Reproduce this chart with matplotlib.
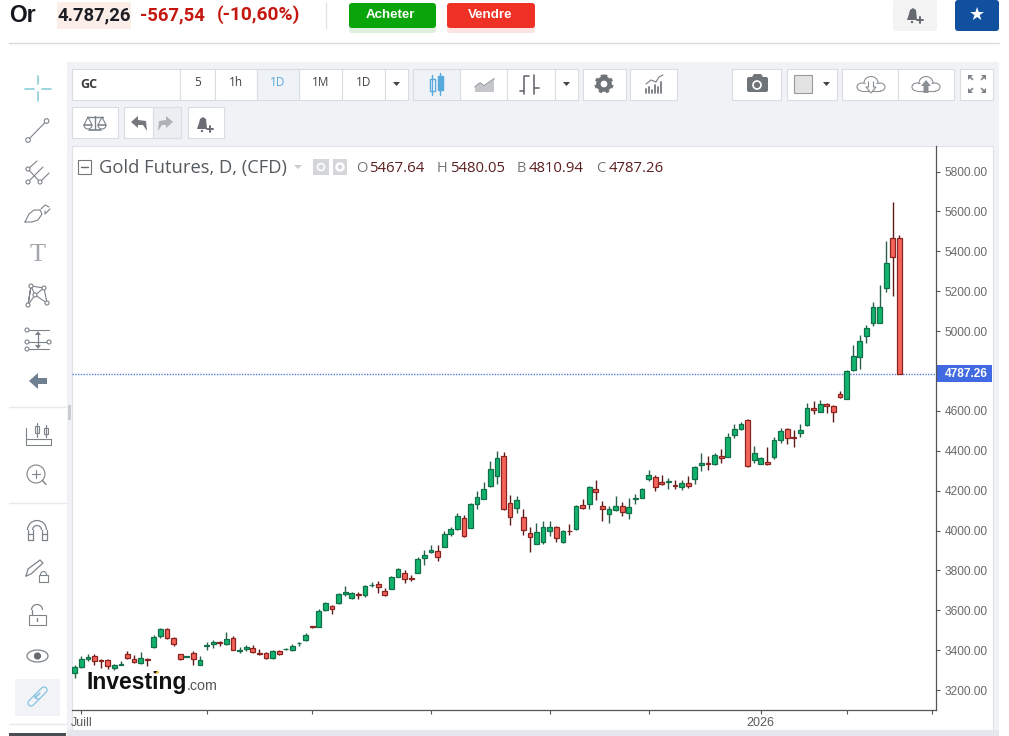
import matplotlib
matplotlib.use("Agg")
import matplotlib.pyplot as plt
import numpy as np
from matplotlib.patches import Rectangle, FancyBboxPatch, Circle, Polygon, Wedge, Ellipse, Arc

# candles, one per trading day
opens = [3287, 3315, 3354, 3372, 3352, 3350, 3309, 3327, 3379, 3355,
         3334, 3357, 3414, 3469, 3506, 3461, 3379, 3367, 3387, 3327,
         3422, 3432, 3439, 3431, 3462, 3397, 3407, 3412, 3384, 3384,
         3359, 3394, 3406, 3399, 3434, 3452, 3521, 3518, 3601, 3620,
         3636, 3683, 3663, 3681, 3678, 3725, 3731, 3698, 3706, 3768,
         3785, 3760, 3788, 3860, 3890, 3897, 3917, 3982, 4006, 4061,
         4014, 4133, 4159, 4225, 4272, 4372, 4139, 4114, 4068, 3986,
         3934, 3944, 3999, 4017, 3940, 3997, 4006, 4129, 4133, 4206,
         4123, 4083, 4104, 4123, 4087, 4158, 4164, 4258, 4266, 4245,
         4241, 4228, 4220, 4238, 4260, 4330, 4337, 4332, 4372, 4370,
         4480, 4507, 4552, 4353, 4333, 4343, 4367, 4455, 4507, 4470,
         4490, 4529, 4613, 4596, 4636, 4624, 4684, 4661, 4803, 4871,
         4975, 5042, 5042, 5218, 5468, 5467.64]
highs = [3325, 3372, 3379, 3379, 3355, 3357, 3330, 3345, 3396, 3375,
         3389, 3359, 3474, 3511, 3511, 3464, 3382, 3372, 3396, 3370,
         3442, 3451, 3444, 3489, 3471, 3414, 3427, 3427, 3406, 3391,
         3399, 3401, 3411, 3429, 3441, 3484, 3523, 3605, 3643, 3625,
         3686, 3722, 3693, 3690, 3726, 3741, 3748, 3710, 3772, 3810,
         3803, 3777, 3865, 3902, 3925, 3925, 3996, 4019, 4086, 4079,
         4139, 4196, 4241, 4350, 4400, 4394, 4178, 4173, 4106, 4017,
         4036, 4047, 4047, 4022, 4002, 4031, 4128, 4156, 4223, 4251,
         4146, 4123, 4173, 4141, 4161, 4183, 4211, 4302, 4276, 4278,
         4261, 4251, 4255, 4271, 4323, 4389, 4372, 4389, 4410, 4487,
         4532, 4542, 4561, 4424, 4367, 4417, 4470, 4512, 4516, 4504,
         4532, 4641, 4649, 4654, 4639, 4628, 4698, 4805, 4930, 4978,
         5029, 5144, 5233, 5453, 5646, 5480.05]
lows = [3260, 3312, 3345, 3324, 3309, 3304, 3299, 3324, 3354, 3334,
        3330, 3320, 3412, 3459, 3454, 3421, 3352, 3365, 3325, 3325,
        3401, 3411, 3419, 3427, 3399, 3387, 3397, 3384, 3374, 3357,
        3357, 3375, 3402, 3396, 3421, 3447, 3513, 3514, 3596, 3579,
        3630, 3671, 3658, 3658, 3668, 3716, 3685, 3671, 3705, 3767,
        3738, 3745, 3787, 3827, 3889, 3848, 3915, 3972, 4004, 3969,
        4012, 4109, 4158, 4220, 4235, 4103, 4026, 4086, 3977, 3894,
        3932, 3934, 3974, 3942, 3939, 3979, 4004, 4108, 4109, 4153,
        4049, 4037, 4099, 4072, 4057, 4131, 4163, 4248, 4198, 4230,
        4210, 4206, 4203, 4213, 4235, 4298, 4303, 4330, 4340, 4368,
        4462, 4506, 4317, 4340, 4332, 4328, 4358, 4440, 4434, 4417,
        4469, 4526, 4584, 4592, 4591, 4546, 4666, 4659, 4801, 4810,
        4940, 5025, 5040, 5194, 5177, 4787.26]
closes = [3314, 3355, 3365, 3344, 3345, 3322, 3324, 3330, 3359, 3339,
          3360, 3352, 3467, 3504, 3459, 3432, 3355, 3370, 3354, 3350,
          3427, 3439, 3437, 3454, 3402, 3401, 3414, 3389, 3382, 3360,
          3394, 3382, 3407, 3422, 3437, 3477, 3514, 3596, 3638, 3608,
          3681, 3690, 3686, 3678, 3721, 3728, 3716, 3678, 3765, 3805,
          3757, 3758, 3858, 3875, 3902, 3867, 3981, 4007, 4073, 3972,
          4134, 4166, 4206, 4307, 4362, 4109, 4066, 4151, 4004, 3966,
          3991, 4016, 4017, 3960, 3996, 3996, 4123, 4114, 4216, 4191,
          4109, 4106, 4123, 4092, 4118, 4161, 4206, 4276, 4220, 4231,
          4246, 4221, 4238, 4225, 4317, 4337, 4332, 4377, 4363, 4470,
          4509, 4534, 4325, 4387, 4365, 4332, 4454, 4497, 4462, 4464,
          4502, 4613, 4602, 4636, 4626, 4596, 4669, 4801, 4873, 4950,
          5017, 5121, 5121, 5341, 5373, 4787.26]

price_ticks = [3200, 3400, 3600, 3800, 4000, 4200, 4400, 4600, 5000, 5200, 5400, 5600, 5800]
date_ticks = [1, 20, 36, 54, 72, 87, 104, 117, 130]
date_labels = ["Juill", "", "", "", "", "", "2026", "", ""]
last_price = 4787.26

plt.rcParams["font.family"] = ["Liberation Sans", "DejaVu Sans"]
fig = plt.figure(figsize=(10.09, 7.36), dpi=100, facecolor="white")

# page chrome is drawn in pixel coordinates
ui = fig.add_axes([0, 0, 1, 1], zorder=0)
ui.set_xlim(0, 1009)
ui.set_ylim(736, 0)
ui.axis("off")

BORDER = "#d9dde3"
ICON = "#7d8389"


def box(x0, y0, x1, y1, fc="white", ec=BORDER, lw=0.8):
    ui.add_patch(Rectangle((x0, y0), x1 - x0, y1 - y0, fc=fc, ec=ec, lw=lw))


def rbox(x0, y0, x1, y1, fc, r=3):
    ui.add_patch(FancyBboxPatch((x0 + r, y0 + r), x1 - x0 - 2 * r, y1 - y0 - 2 * r,
                                boxstyle=f"round,pad={r}", fc=fc, ec="none"))


def label(x, y, s, size=9, color="#444444", ha="center", weight="normal", family=None):
    ui.text(x, y, s, fontsize=size, color=color, ha=ha, va="center", fontweight=weight,
            family=family if family else plt.rcParams["font.family"])


def line(xs, ys, color=ICON, lw=1.0, ls="-"):
    ui.plot(xs, ys, color=color, lw=lw, ls=ls, solid_capstyle="round")


def ring(x, y, r=2.3, color=ICON):
    ui.add_patch(Circle((x, y), r, fc="white", ec=color, lw=0.8, zorder=3))


def tri(pts, color=ICON):
    ui.add_patch(Polygon(pts, fc=color, ec="none", zorder=3))


def arc(x, y, w, h, t1, t2, color=ICON, lw=0.9):
    ui.add_patch(Arc((x, y), w, h, theta1=t1, theta2=t2, color=color, lw=lw))


def bell(x, y, color="#666a70"):
    tri([(x - 6, y + 5), (x - 4, y - 1), (x - 3, y - 5), (x, y - 7), (x + 3, y - 5), (x + 4, y + 5)], color)
    ui.add_patch(Circle((x - 1, y + 7), 1.2, fc=color, ec="none"))
    line([x + 4, x + 10], [y + 5, y + 5], color, 1.4)
    line([x + 7, x + 7], [y + 2, y + 8], color, 1.4)


def cloud(x, y, color=ICON, fill=False):
    ui.add_patch(Ellipse((x, y - 2), 14, 13, fc="white", ec=color, lw=0.8))
    ui.add_patch(Ellipse((x - 9, y + 2), 10, 8, fc="white", ec=color, lw=0.8))
    ui.add_patch(Ellipse((x + 9, y + 2), 10, 8, fc="white", ec=color, lw=0.8))
    ui.add_patch(Rectangle((x - 9, y - 1), 18, 6.5, fc="white", ec="none", zorder=2))
    line([x - 9, x + 9], [y + 6, y + 6], color, 0.8)
    if fill:
        tri([(x - 5, y + 1), (x, y - 5), (x + 5, y + 1), (x + 2.5, y + 1), (x + 2.5, y + 8), (x - 2.5, y + 8), (x - 2.5, y + 1)], color)
    else:
        tri([(x - 5, y + 2), (x, y + 8), (x + 5, y + 2)], "white")
        ui.plot([x - 2.5, x - 2.5, x - 5, x, x + 5, x + 2.5, x + 2.5], [y - 3, y + 2, y + 2, y + 8, y + 2, y + 2, y - 3],
                color=color, lw=0.8, zorder=4)


# top header
label(9, 15, "Or", 16.5, "#15171f", "left", "bold")
box(57, 2, 131, 29, "#fbeee9", "none")
label(58, 15, "4.787,26", 13.3, "#1d1d24", "left", "bold", "Roboto")
label(140, 15, "-567,54", 13.3, "#c5160f", "left", "bold", "Roboto")
label(217, 15, "(-10,60%)", 13.8, "#c5160f", "left", "bold", "Roboto")
line([325.5, 325.5], [2, 28], "#e2e2e2", 0.9)
rbox(349, 5, 436, 33, "#dff0df", 3)
rbox(447, 5, 535, 33, "#fbe3e1", 3)
rbox(349, 3, 436, 28, "#0aa50a")
rbox(447, 3, 535, 28, "#ee3124")
label(390, 15, "Acheter", 9.6, "white", weight="bold")
label(490, 15, "Vendre", 9.6, "white", weight="bold")
rbox(893, 0, 937, 31, "#f3f3f4")
bell(913, 15)
rbox(955, 0, 999, 31, "#11509f")
label(977, 14.5, "★", 13, "white", family="DejaVu Sans")
line([9, 999], [42.5, 42.5], "#dadada", 1.0)

# chart panel
box(67, 62, 999, 736, "#f0f2f6", "none")
box(72, 146, 993, 730, "white", "#dfe2e7")
box(67, 730, 999, 736, "#e4e7ec", "none")

# first toolbar row
for x0, x1 in [(72, 180), (180, 215), (215, 257), (299, 342), (342, 385), (385, 408),
               (460, 507), (507, 555), (555, 578), (583, 626), (630, 677), (732, 781),
               (787, 837), (842, 898), (898, 954), (960, 993)]:
    box(x0, 68.5, x1, 99.5)
box(257, 68.5, 299, 99.5, "#eff2f6")
box(413, 68.5, 460, 99.5, "#eff2f6")
label(80, 84, "GC", 9, "#3a3a3a", "left", "bold", "Open Sans")
for cx, s in [(198, "5"), (236, "1h"), (321, "1M"), (364, "1D")]:
    label(cx, 83, s, 8.5, "#444444", family="Open Sans")
label(278, 83, "1D", 8.5, "#5aa9dc", family="Open Sans")
for cx in [396.5, 566.5, 826.5]:
    tri([(cx - 3.5, 82), (cx + 3.5, 82), (cx, 86)], "#444444")

# candle type icons
line([432, 432], [75, 95], "#58a9dc", 1.0)
box(429.5, 79, 434.5, 91, "white", "#58a9dc", 1.0)
line([440, 440], [73, 95], "#58a9dc", 1.0)
box(437.5, 76, 442.5, 90, "#58a9dc", "#58a9dc", 1.0)
tri([(475, 92), (475, 87), (480, 83), (484, 86), (494, 79), (494, 92)], "#c4c6c9")
line([475, 480, 484, 494], [87, 83, 86, 79], "#7d8389", 1.0)
line([524, 524, 529], [94, 76, 76], "#6a6e74", 1.2)
line([520, 524], [91, 91], "#6a6e74", 1.2)
line([534, 534], [75, 94], "#6a6e74", 1.2)
line([534, 539], [88, 88], "#6a6e74", 1.2)

# gear
ui.add_patch(Circle((604, 84), 5.6, fc="white", ec="#6f7479", lw=3.2))
ui.add_patch(Circle((604, 84), 8.0, fc="none", ec="#6f7479", lw=2.2, ls=(0, (1.1, 1.1))))
# indicators
for bx, bh in zip([646, 649, 652, 655, 658, 661], [4, 6, 3, 8, 6, 11]):
    line([bx, bx], [93, 93 - bh], "#777b80", 1.3)
line([646, 651, 656, 659, 663], [84, 80, 82, 77, 75], "#777b80", 0.8)
# camera
rbox(747, 77, 768, 92, "#6f7479", 2)
tri([(752, 77), (754, 74), (761, 74), (763, 77)], "#6f7479")
ui.add_patch(Circle((757, 85), 4, fc="#6f7479", ec="white", lw=1.2))
box(794, 75, 812, 93, "#e3e3e3", "#9a9a9a")
cloud(871, 85, "#8a8f94")
cloud(926, 85, "#8a8f94", fill=True)
# fullscreen arrows
for sx, sy in [(-1, -1), (1, -1), (-1, 1), (1, 1)]:
    cx, cy = 977 + 8 * sx, 84 + 8 * sy
    tri([(cx + sx, cy + sy), (cx - 4 * sx, cy + sy), (cx + sx, cy - 4 * sy)], "#7d8389")
    line([cx, cx - 3.5 * sx], [cy, cy - 3.5 * sy], "#7d8389", 1.2)

# second toolbar row
box(72, 106.5, 118, 138)
box(123.5, 106.5, 153, 138)
box(153, 106.5, 181, 138, "#eceef2")
box(187.5, 106.5, 223.5, 138)
line([95, 95], [116, 129], ICON, 1.0)
line([87, 103], [117, 117], ICON, 1.0)
line([89, 101], [130, 130], ICON, 1.2)
for cx in [88, 102]:
    line([cx - 4, cx, cx + 4, cx - 4], [125, 117, 125, 125], ICON, 0.8)
    ui.add_patch(Wedge((cx, 125), 4, 0, 180, fc="white", ec=ICON, lw=0.8))
tri([(131, 122), (138, 116), (138, 120), (146, 121), (147, 131), (143, 125), (138, 125), (138, 128)], "#74787d")
tri([(173, 122), (166, 116), (166, 120), (159, 121), (158, 131), (162, 125), (166, 125), (166, 128)], "#aeb1b5")
bell(203, 124, "#6a6e74")

# left drawing tools
CYAN = "#8cd0dc"
line([38, 38], [76, 84], CYAN, 1.2)
line([38, 38], [92, 101], CYAN, 1.2)
line([25, 34], [88.5, 88.5], CYAN, 1.2)
line([42, 51], [88.5, 88.5], CYAN, 1.2)
line([28, 46.5], [140, 121], ICON, 0.8)
ring(28, 140)
ring(46.5, 121)
line([28, 37], [169, 161], ICON, 0.8)
line([28, 43], [182, 167], ICON, 0.8)
line([40, 49], [182, 173], ICON, 0.8)
line([28, 40], [169, 182], ICON, 0.8)
for px, py in [(28, 169), (28, 182), (40, 182)]:
    ring(px, py, 2)
line([25, 29, 34, 40, 42, 38, 32, 25], [222, 214, 210, 210, 214, 220, 222, 222], ICON, 0.8)
line([41, 45, 49], [209, 205, 207], ICON, 0.8)
line([45, 45, 50], [211, 214, 209], ICON, 0.8)
label(38, 255, "T", 19, "#a3a7ab", family="Liberation Serif")
line([28, 31, 35, 47, 44, 31, 28], [305, 286, 295, 303, 288, 286, 305], ICON, 0.8)
line([28, 35, 44], [305, 295, 288], ICON, 0.8)
for px, py in [(28, 305), (31, 286), (35, 295), (47, 303), (44, 288)]:
    ring(px, py, 2)
for ly, x0, x1 in [(330, 27, 49), (342, 27, 49), (349, 27, 49)]:
    line([x0, x1], [ly, ly], ICON, 0.8)
for px, py in [(27, 330), (27, 342), (27, 349), (49, 342)]:
    ring(px, py, 2)
line([38, 38], [333, 347], ICON, 0.9)
tri([(35, 335), (41, 335), (38, 331)], ICON)
tri([(35, 345), (41, 345), (38, 349)], ICON)
tri([(29, 381), (38, 373), (38, 378), (47, 378), (47, 384), (38, 384), (38, 389)], "#6d7f91")
line([9, 66], [407, 407], "#e7e9ec", 1.0)
line([26, 26, 51, 51], [428, 445, 445, 439], ICON, 0.8)
line([26, 51], [439, 439], ICON, 0.8)
line([37, 37], [423, 437], ICON, 0.9)
line([46, 46], [425, 437], ICON, 0.9)
box(35, 426, 39, 433, "white", ICON)
box(44, 428, 48, 434, "white", ICON)
ui.add_patch(Circle((36, 474), 9, fc="white", ec=ICON, lw=0.8))
line([42.5, 46], [480.5, 484.5], ICON, 1.0)
line([32, 40], [474, 474], ICON, 0.8)
line([36, 36], [470, 478], ICON, 0.8)
line([9, 66], [503, 503], "#e7e9ec", 1.0)
# magnet
arc(37, 530, 19, 19, 180, 360)
arc(37, 530, 9, 9, 180, 360)
line([27.5, 27.5, 32.5, 32.5], [530, 540, 540, 530], ICON, 0.9)
line([41.5, 41.5, 46.5, 46.5], [530, 540, 540, 530], ICON, 0.9)
line([27.5, 32.5], [534, 534], ICON, 0.9)
line([41.5, 46.5], [534, 534], ICON, 0.9)
# pencil and lock
line([26, 28, 40, 43, 31, 26], [576, 569, 560, 563, 574, 576], ICON, 0.9)
box(39, 575, 48, 582, "white", ICON)
arc(43.5, 575, 6, 7, 180, 360, ICON, 0.8)
# open lock
box(29, 615, 46, 625, "white", ICON)
arc(37, 610, 11, 11, 180, 360)
line([31.5, 31.5], [610, 615], ICON, 0.9)
line([37, 37], [618, 621], ICON, 1.0)
ui.add_patch(Ellipse((37.5, 656), 21, 12, fc="white", ec=ICON, lw=0.9))
ui.add_patch(Circle((37.5, 656), 3.6, fc="#666a70", ec="none"))
rbox(15, 679, 60, 716, "#f1f3f6", 1)
for x0, y0, x1, y1 in [(31, 703, 37, 697), (38, 696, 44, 690)]:
    ui.plot([x0, x1], [y0, y1], color="#7cbde0", lw=5.2, solid_capstyle="round")
    ui.plot([x0, x1], [y0, y1], color="#f1f3f6", lw=3.6, solid_capstyle="round")
line([35, 40], [698, 693], "#7cbde0", 1.0)
line([9, 66], [724, 724], "#e7e9ec", 1.0)
box(9, 733, 66, 736, "#4a4d52", "none")
box(68, 405, 71, 420, "#c9ccd1", "none")

# candlestick chart, placed so price and day scales line up with the page
ax = fig.add_axes([72 / 1009, (736 - 710) / 736, 864 / 1009, 564 / 736], zorder=1)
ax.patch.set_alpha(0)
days = np.arange(len(closes))
o, h, l, c = map(np.array, (opens, highs, lows, closes))
up = c >= o
wick_colors = np.where(up, "#2a5f48", "#5c1a18")
body_colors = np.where(up, "#12b36d", "#f4635a")
edge_colors = np.where(up, "#127049", "#8b2420")
ax.vlines(days, l, h, colors=wick_colors, lw=1.0, zorder=2)
ax.bar(days, np.abs(c - o), bottom=np.minimum(o, c), width=0.72, color=body_colors,
       edgecolor=edge_colors, linewidth=0.9, zorder=3)
ax.axhline(last_price, color="#5b7fdc", lw=1.0, ls=(0, (1, 1)), zorder=1)
ax.set_xlim(-0.41, 130.56)
ax.set_ylim(3100, 5928)
ax.yaxis.tick_right()
ax.set_yticks(price_ticks)
ax.set_yticklabels([f"{v:.2f}" for v in price_ticks])
ax.set_xticks(date_ticks)
ax.set_xticklabels(date_labels)
ax.tick_params(axis="y", length=3, width=0.8, color="#555555", labelcolor="#6a6a6a", labelsize=8.6, pad=3)
ax.tick_params(axis="x", length=3, width=0.8, color="#555555", labelcolor="#5a5a5a", labelsize=9, pad=2)
for name in ["left", "top"]:
    ax.spines[name].set_visible(False)
for name in ["right", "bottom"]:
    ax.spines[name].set_color("#555555")
    ax.spines[name].set_linewidth(0.9)

# last price flag
box(937, 365, 992, 382, "#4169e1", "none")
ax.text(1.0 + 30 / 864, last_price, f"{last_price:.2f}", transform=ax.get_yaxis_transform(), color="white",
        fontsize=8.6, fontweight="bold", ha="center", va="center", clip_on=False)

# legend line inside the chart
box(78, 160, 91, 174, "white", "#777777")
line([81, 88], [167, 167], "#666666", 1.0)
label(99, 168, "Gold Futures, D, (CFD)", 13.2, "#555a5f", "left", family="Open Sans")
tri([(294, 165), (302, 165), (298, 169)], "#c9cbce")
box(313, 159, 329, 175, "#d4d6d9", "none")
box(333, 159, 347, 175, "#d4d6d9", "none")
ui.add_patch(Circle((321, 167), 3.5, fc="none", ec="white", lw=1.2))
ui.add_patch(Circle((340, 167), 3.5, fc="none", ec="white", lw=1.8))
for lx, name, vx, value in [(356, "O", 369, "5467.64"), (437, "H", 450, "5480.05"),
                            (517, "B", 529, "4810.94"), (596, "C", 609, "4787.26")]:
    label(lx, 168, name, 10.5, "#777777", "left", family="Open Sans")
    label(vx, 168, value, 10.7, "#5a1f1f", "left", family="Open Sans")

# logo
label(87, 683, "Investing", 16.6, "#111111", "left", "bold")
label(187, 686, ".com", 10.3, "#555555", "left")
ui.add_patch(Polygon([(155, 674), (158, 670), (159, 673)], fc="#f4b52a", ec="none", zorder=5))

fig.savefig("out.png", dpi=100)
